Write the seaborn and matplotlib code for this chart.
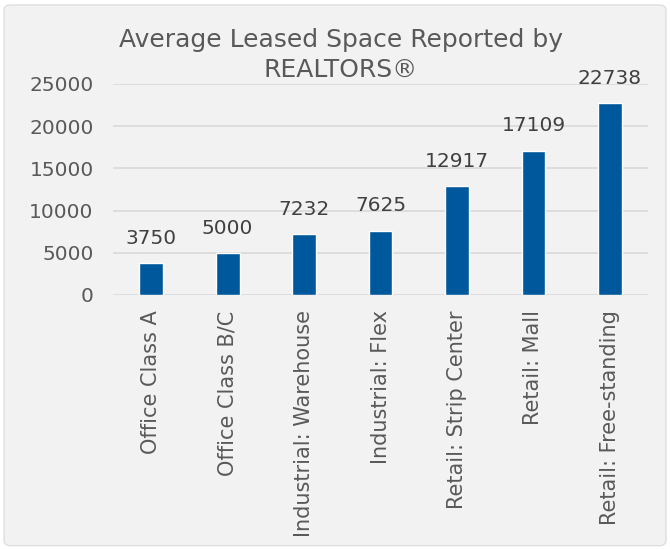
import matplotlib
matplotlib.use("Agg")
import pandas as pd
import seaborn as sns
import matplotlib.pyplot as plt
from matplotlib.patches import FancyBboxPatch

categories = ["Office Class A", "Office Class B/C", "Industrial: Warehouse",
              "Industrial: Flex", "Retail: Strip Center", "Retail: Mall",
              "Retail: Free-standing"]
avg_space = [3750, 5000, 7232, 7625, 12917, 17109, 22738]
y_ticks = [0, 5000, 10000, 15000, 20000, 25000]

df = pd.DataFrame({"category": categories, "space": avg_space})

sns.set_theme()
sns.set_style("white")
plt.rcParams["font.family"] = ["DejaVu Sans"]

fig = plt.figure(figsize=(6.7, 5.49), dpi=100, facecolor="white")
# chart area background with rounded edge
bg = FancyBboxPatch((0.006, 0.006), 0.988, 0.985, boxstyle="round,pad=0,rounding_size=0.01",
                    transform=fig.transFigure, facecolor="#F2F2F2", edgecolor="#D9D9D9",
                    linewidth=0.8, zorder=-10)
fig.patches.append(bg)

ax = fig.add_axes([0.1687, 0.4627, 0.7985, 0.3843])
ax.patch.set_alpha(0)

sns.barplot(data=df, x="category", y="space", color="#00589C", width=0.31,
            saturation=1, ax=ax, zorder=3)

for i, v in enumerate(avg_space):
    ax.annotate(f"{v}", (i, v), xytext=(0, 11), textcoords="offset points",
                ha="center", va="bottom", fontsize=14.5, color="#404040")

ax.set_ylim(0, 25000)
ax.set_yticks(y_ticks)
ax.set_xlim(-0.5, len(categories) - 0.5)
ax.yaxis.grid(True, color="#D9D9D9", linewidth=1.2, zorder=0)
ax.set_axisbelow(True)
for s in ax.spines.values():
    s.set_visible(False)
ax.tick_params(axis="y", length=0, labelsize=14.5, labelcolor="#595959", pad=14)
ax.tick_params(axis="x", length=0, labelsize=15, labelcolor="#595959", pad=11)
plt.setp(ax.get_xticklabels(), rotation=90, ha="center", va="top")
ax.set_xlabel("")
ax.set_ylabel("")

fig.text(0.509, 0.9, "Average Leased Space Reported by\nREALTORS®", ha="center", va="center",
         fontsize=18, color="#595959", linespacing=1.3)

fig.savefig("out.png", dpi=100, facecolor=fig.get_facecolor())
